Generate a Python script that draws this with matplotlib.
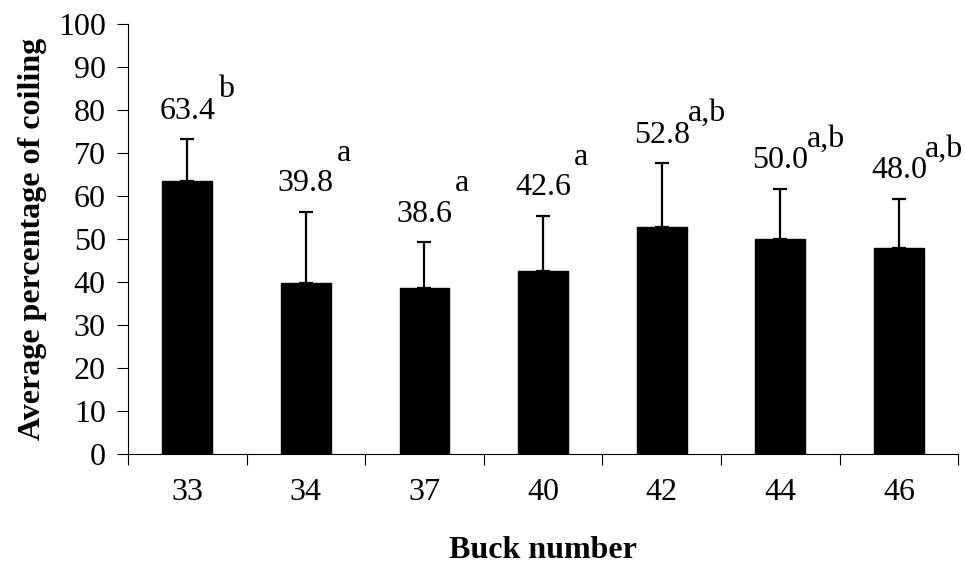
import numpy as np
import matplotlib.pyplot as plt

plt.rcParams['font.family'] = ['Liberation Serif', 'DejaVu Serif']

# data
bucks = ['33', '34', '37', '40', '42', '44', '46']
means = [63.4, 39.8, 38.6, 42.6, 52.8, 50.0, 48.0]
errors = [9.8, 16.5, 10.7, 12.8, 14.8, 11.7, 11.3]
letters = ['b', 'a', 'a', 'a', 'a,b', 'a,b', 'a,b']

fig = plt.figure(figsize=(9.65, 5.67), dpi=100)
ax = fig.add_axes([0.1326, 0.199, 0.8604, 0.759])

x = np.arange(len(bucks))
ax.bar(x, means, width=0.42, color='black', edgecolor='black', zorder=2)
ax.errorbar(x, means, yerr=[np.zeros(len(means)), errors], fmt='none',
            ecolor='black', elinewidth=1.6, capsize=5, capthick=1.6, zorder=3)

# value labels with significance letters
for i in range(len(bucks)):
    top = means[i] + errors[i]
    ax.text(x[i], top + 6.5, f'{means[i]:.1f}', ha='center', va='center',
            fontsize=23)
    raise_by = 7.0 if letters[i] == 'a' else 5.0
    dx = 0.22 if letters[i] == 'a,b' else 0.26
    ax.text(x[i] + dx, top + 6.5 + raise_by, letters[i], ha='left',
            va='center', fontsize=23)

ax.set_xlim(-0.5, len(bucks) - 0.5)
ax.set_ylim(0, 100)
ax.set_yticks(np.arange(0, 101, 10))
ax.set_xticks(x)
ax.set_xticklabels(bucks)
ax.set_xticks(np.arange(-0.5, len(bucks), 1), minor=True)
ax.tick_params(axis='x', which='major', length=0, pad=17, labelsize=23)
ax.tick_params(axis='x', which='minor', length=8, width=0.8, direction='out')
ax.tick_params(axis='y', length=8, width=0.8, pad=8, labelsize=23)

for side in ['top', 'right']:
    ax.spines[side].set_visible(False)
ax.spines['left'].set_linewidth(0.8)
ax.spines['bottom'].set_linewidth(0.8)

ax.set_ylabel('Average percentage of coiling', fontsize=23, fontweight='bold',
              labelpad=8)
ax.set_xlabel('Buck number', fontsize=23, fontweight='bold', labelpad=21)

fig.savefig('out.png', dpi=100)
